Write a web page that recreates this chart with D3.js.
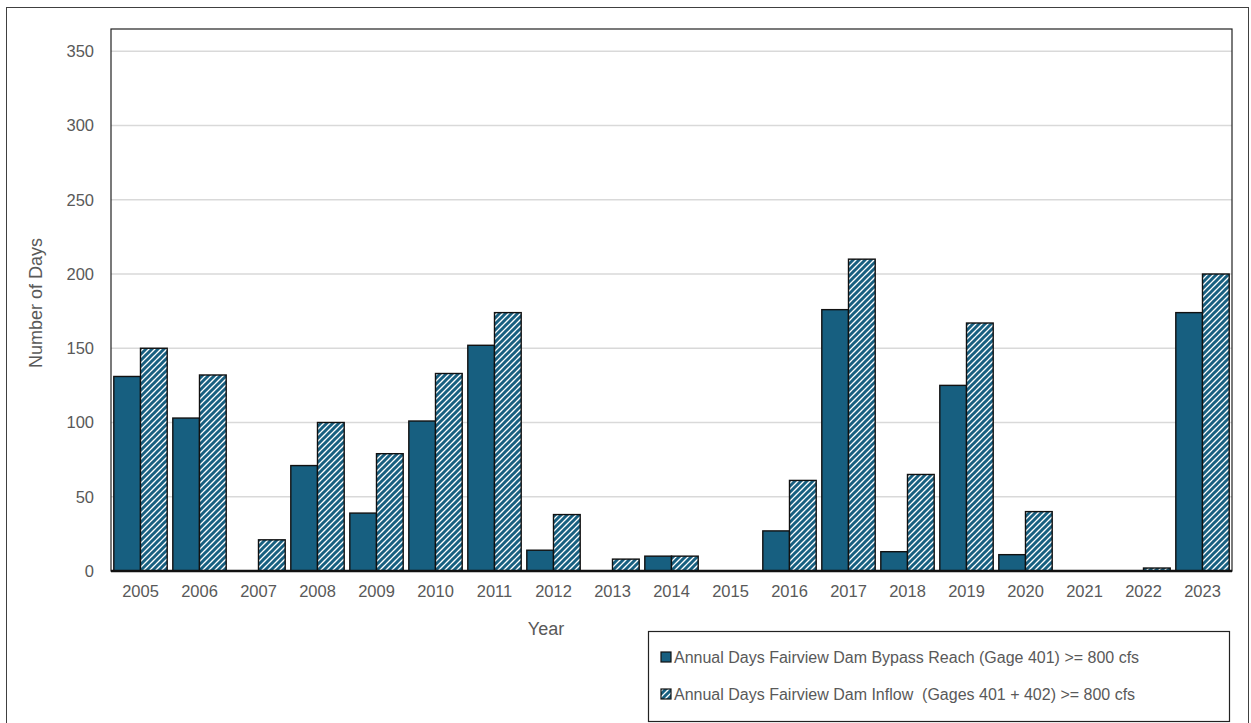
<!DOCTYPE html>
<html>
<head>
<meta charset="utf-8">
<script src="https://cdn.jsdelivr.net/npm/d3@7"></script>
<style>
  html, body { margin: 0; padding: 0; background: #fff; }
  svg { display: block; font-family: "Liberation Sans", Arial, sans-serif; }
</style>
</head>
<body>
<svg id="chart" width="1251" height="723"></svg>
<script>
// Annual count of days with flow >= 800 cfs, by year
const years = ["2005","2006","2007","2008","2009","2010","2011","2012","2013","2014",
               "2015","2016","2017","2018","2019","2020","2021","2022","2023"];
const bypassDays = [131,103,0,71,39,101,152,14,0,10,0,27,176,13,125,11,0,0,174];
const inflowDays = [150,132,21,100,79,133,174,38,8,10,0,61,210,65,167,40,0,2,200];
const yTicks = [0,50,100,150,200,250,300,350];
const seriesNames = [
  "Annual Days Fairview Dam Bypass Reach (Gage 401) >= 800 cfs",
  "Annual Days Fairview Dam Inflow  (Gages 401 + 402) >= 800 cfs"
];

const blue = "#175f80";
const textColor = "#595959";
const fontFamily = "Liberation Sans, Arial, sans-serif";

const svg = d3.select("#chart");
const plot = { left: 111, right: 1232, top: 29, bottom: 571 };

// stripe fill for the inflow series
const defs = svg.append("defs");
const pat = defs.append("pattern")
  .attr("id", "stripes")
  .attr("patternUnits", "userSpaceOnUse")
  .attr("width", 6).attr("height", 6);
pat.append("rect").attr("width", 6).attr("height", 6).attr("fill", "#fff");
pat.append("path")
  .attr("d", "M-1.5,1.5 L1.5,-1.5 M0,6 L6,0 M4.5,7.5 L7.5,4.5")
  .attr("stroke", blue).attr("stroke-width", 3);

// outer frame
svg.append("rect")
  .attr("x", 6.5).attr("y", 7.5).attr("width", 1242).attr("height", 720)
  .attr("fill", "none").attr("stroke", "#404040").attr("stroke-width", 1);

const x = d3.scaleBand().domain(years).range([plot.left, plot.right]).paddingInner(0).paddingOuter(0);
const sub = d3.scaleBand().domain([0, 1]).range([0, x.bandwidth()]).paddingInner(0).paddingOuter(0.105);
const y = d3.scaleLinear().domain([0, 365]).range([plot.bottom, plot.top]);

// gridlines
svg.append("g")
  .selectAll("line")
  .data(yTicks.filter(d => d > 0))
  .join("line")
  .attr("x1", plot.left).attr("x2", plot.right)
  .attr("y1", d => y(d)).attr("y2", d => y(d))
  .attr("stroke", "#d9d9d9").attr("stroke-width", 1.5);

// y axis labels
const yAxis = d3.axisLeft(y).tickValues(yTicks).tickSize(0).tickPadding(17);
svg.append("g")
  .attr("transform", `translate(${plot.left},0)`)
  .call(yAxis)
  .call(g => g.select(".domain").remove())
  .call(g => g.selectAll("text")
    .attr("fill", textColor).attr("font-size", 16.5)
    .attr("font-family", fontFamily));

// bars
const groups = svg.append("g")
  .selectAll("g")
  .data(years.map((yr, i) => ({ yr, vals: [bypassDays[i], inflowDays[i]] })))
  .join("g")
  .attr("transform", d => `translate(${x(d.yr)},0)`);

groups.selectAll("rect")
  .data(d => d.vals.map((v, k) => ({ v, k })).filter(e => e.v > 0))
  .join("rect")
  .attr("x", e => sub(e.k))
  .attr("width", sub.bandwidth())
  .attr("y", e => y(e.v))
  .attr("height", e => y(0) - y(e.v))
  .attr("fill", e => e.k === 0 ? blue : "url(#stripes)")
  .attr("stroke", "#111")
  .attr("stroke-width", 1.4);

// plot frame
svg.append("rect")
  .attr("x", plot.left).attr("y", plot.top)
  .attr("width", plot.right - plot.left).attr("height", plot.bottom - plot.top)
  .attr("fill", "none").attr("stroke", "#222").attr("stroke-width", 1.2);

// baseline
svg.append("line")
  .attr("x1", plot.left).attr("x2", plot.right)
  .attr("y1", y(0)).attr("y2", y(0))
  .attr("stroke", "#111").attr("stroke-width", 2.4);

// x axis labels
const xAxis = d3.axisBottom(x).tickSize(0).tickPadding(14);
svg.append("g")
  .attr("transform", `translate(0,${plot.bottom})`)
  .call(xAxis)
  .call(g => g.select(".domain").remove())
  .call(g => g.selectAll("text")
    .attr("fill", textColor).attr("font-size", 16.5)
    .attr("font-family", fontFamily));

// axis titles
svg.append("text")
  .attr("x", 546).attr("y", 635)
  .attr("text-anchor", "middle")
  .attr("fill", textColor).attr("font-size", 18)
  .text("Year");
svg.append("text")
  .attr("transform", "translate(42,303) rotate(-90)")
  .attr("text-anchor", "middle")
  .attr("fill", textColor).attr("font-size", 18)
  .text("Number of Days");

// legend
const legend = svg.append("g");
legend.append("rect")
  .attr("x", 648.5).attr("y", 631.5).attr("width", 581).attr("height", 90)
  .attr("fill", "#fff").attr("stroke", "#222").attr("stroke-width", 1.2);
const rows = legend.selectAll("g.row")
  .data(seriesNames)
  .join("g").attr("class", "row")
  .attr("transform", (d, i) => `translate(661,${657 + i * 37})`);
rows.append("rect")
  .attr("x", 0).attr("y", -5).attr("width", 10).attr("height", 10)
  .attr("fill", (d, i) => i === 0 ? blue : "url(#stripes)")
  .attr("stroke", "#111").attr("stroke-width", 1.2);
rows.append("text")
  .attr("x", 13).attr("y", 0).attr("dy", "0.35em")
  .attr("fill", textColor).attr("font-size", 16)
  .attr("xml:space", "preserve")
  .style("white-space", "pre")
  .text(d => d);
</script>
</body>
</html>
